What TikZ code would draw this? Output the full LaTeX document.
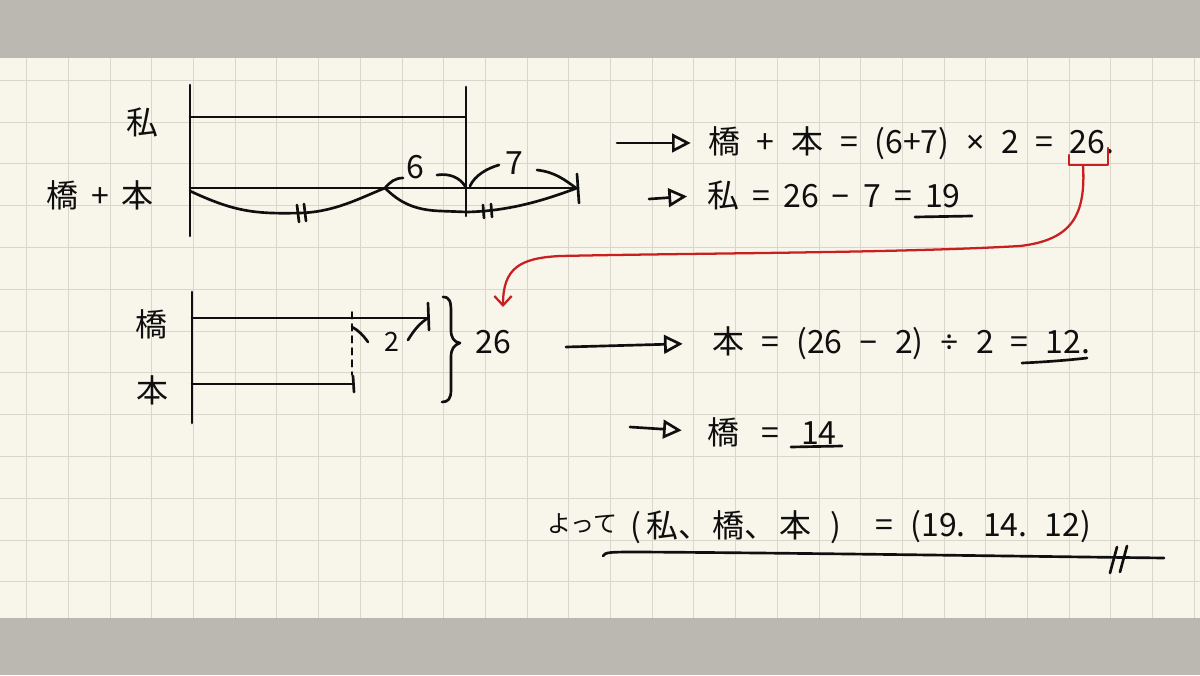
\documentclass[tikz,border=0pt]{standalone}
\usepackage{fontspec}
\setmainfont{Noto Sans CJK JP}
\newfontfamily\opfont{Noto Sans}
\newfontfamily\tightjp[RawFeature=+palt]{Noto Sans CJK JP}
\usetikzlibrary{arrows.meta}
\definecolor{paper}{RGB}{248,245,234}
\definecolor{desk}{RGB}{186,184,176}
\definecolor{gridgray}{RGB}{217,214,203}
\definecolor{pen}{RGB}{15,15,15}
\definecolor{redpen}{RGB}{200,32,32}
\frenchspacing

\begin{document}
\begin{tikzpicture}[x=0.75pt,y=0.75pt,yscale=-1,xscale=1,
  ink/.style={draw=pen,line width=2pt,line cap=round,line join=round},
  redink/.style={ink,draw=redpen,line width=1.7pt},
  gridline/.style={draw=gridgray,line width=0.7pt},
  hand/.style={inner sep=0pt,text=pen,font=\fontsize{24}{28}\selectfont},
  smallhand/.style={hand,font=\fontsize{18}{20}\selectfont},
  pointer/.style={ink,-{Triangle[open,length=14pt,width=14pt]}}]
\useasboundingbox (0,0) rectangle (1200,675);

%desk and squared paper
\fill[desk] (0,0) rectangle (1200,675);
\fill[paper] (0,57.5) rectangle (1200,618);
\foreach \i in {0,...,28} \draw[gridline] ({26.7+41.7*\i},57.5) -- ({26.7+41.7*\i},618);
\foreach \j in {0,...,12} \draw[gridline] (0,{80.3+41.8*\j}) -- (1200,{80.3+41.8*\j});

%Top tape diagram
\draw[ink] (190,85) -- (190,236) ;
\draw[ink] (466,87) -- (466,216) ;
\draw[ink] (190,117) -- (465,117) ;
\draw[ink] (190,188) -- (578,188) ;
\draw[ink] (577,174) -- (579,203) ;
% under braces
\draw[ink] (190,191) .. controls (235,212) and (255,214) .. (300,213) .. controls (335,212) and (360,198) .. (385,188) ;
\draw[ink] (297,205) -- (299,222) (304,204) -- (306,221) ;
\draw[ink] (385,188) .. controls (400,203) and (415,210) .. (440,211) -- (467,212) .. controls (510,211) and (545,200) .. (577,188) ;
\draw[ink] (483,205) -- (484,218) (491,204) -- (492,217) ;
% over arcs
\draw[ink] (385,188) .. controls (390,182) and (395,178) .. (403,178) ;
\draw[ink] (437,175) .. controls (450,173) and (460,178) .. (465,186) ;
\draw[ink] (470,186) .. controls (475,175) and (488,168) .. (499,165) ;
\draw[ink] (537,170) .. controls (555,172) and (565,180) .. (576,188) ;

\node[hand] (six) at (415,167) {6};
\node[hand] (seven) at (514,163) {7};
\node[hand] (lblwatashi) at (142,122) {私};
\node[hand] (lblsum) at (100,195) {橋 \,+\, 本};

%Bottom tape diagram
\draw[ink] (192,292) -- (192,423) ;
\draw[ink] (192,318) -- (428,318) ;
\draw[ink] (428,303) -- (429,330) ;
\draw[ink] (192,384) -- (353,384) ;
\draw[ink] (353,376) -- (354,392) ;
\draw[ink,line width=1.3pt,dash pattern=on 5pt off 4pt] (352,312) -- (352,375) ;
\draw[ink] (352,327) .. controls (358,330) and (363,335) .. (368,342) ;
\draw[ink] (408,340) .. controls (414,330) and (420,323) .. (428,318) ;
% curly brace
\draw[ink] (443,297) .. controls (450,297) and (451,302) .. (451,312) -- (451,330) .. controls (451,338) and (454,342) .. (460,343) .. controls (454,345) and (451,349) .. (451,357) -- (451,390) .. controls (451,399) and (448,402) .. (442,402) ;

\node[hand,font=\fontsize{20}{22}\selectfont] (two) at (392,342) {2};
\node[hand] (total) at (493,342) {26};
\node[hand] (lblhashi) at (151,324) {橋};
\node[hand] (lblhon) at (152,390) {本};

%Equations
\node[hand,anchor=west] (eq1) at (708,143) {\makebox[304.5pt][s]{橋 + 本 = (6+7) {\opfont ×} 2 = 26.}};
\node[hand,anchor=west] (eq2) at (707,195) {\makebox[190pt][s]{私 = 26 {\opfont −} 7 = 19}};
\node[hand,anchor=west] (eq3) at (712,343) {\makebox[283.5pt][s]{本 = (26 {\opfont −} 2) {\opfont ÷} 2 = 12.}};
\node[hand,anchor=west] (eq4) at (707,432) {\makebox[97pt][s]{橋 = 14}};
\node[smallhand,anchor=west] (therefore) at (547,524) {よって};
\node[hand,anchor=west] (eq5) at (630,527) {\tightjp\makebox[158pt][s]{(\,私、 橋、 本 )}};
\node[hand,anchor=west] (ans5) at (875,527) {\makebox[162pt][s]{= (19. 14. 12)}};

\coordinate (a1) at (617,143);
\coordinate (a2) at (649,199);
\coordinate (a3) at (566,347);
\coordinate (a4) at (630,427);
\draw[pointer,shorten >=13pt] (a1) -- (eq1.west) ;
\draw[pointer,shorten >=15pt] (a2) -- (eq2.west) ;
\draw[pointer,shorten >=22pt] (a3) -- (eq3.west) ;
\draw[pointer,shorten >=19pt] (a4) -- (eq4.west) ;

%Underlines
\draw[ink] (915,217) -- (972,216) ;
\draw[ink] (1022,363) .. controls (1045,362) and (1070,360) .. (1087,358) ;
\draw[ink] (791,447) -- (842,446) ;
\draw[ink] (603,556) .. controls (605,552) and (610,552) .. (640,552) .. controls (800,553) and (1000,556) .. (1164,558) ;
\draw[ink] (1117,547) -- (1110,573) (1127,546) -- (1120,572) ;

%Red carry arrow
\coordinate (brk) at (1083,165);
\coordinate (redtip) at (503,307);
\draw[redink] (1069,155) -- (1069,165) -- (1108,165) -- (1108,148) ;
\draw[redink,-{Straight Barb[length=7pt,width=13pt]}] (brk) .. controls (1086,215) and (1072,240) .. (1020,246) .. controls (900,253) and (700,253) .. (560,256) .. controls (520,258) and (503,268) .. (redtip) ;
\end{tikzpicture}
\end{document}
